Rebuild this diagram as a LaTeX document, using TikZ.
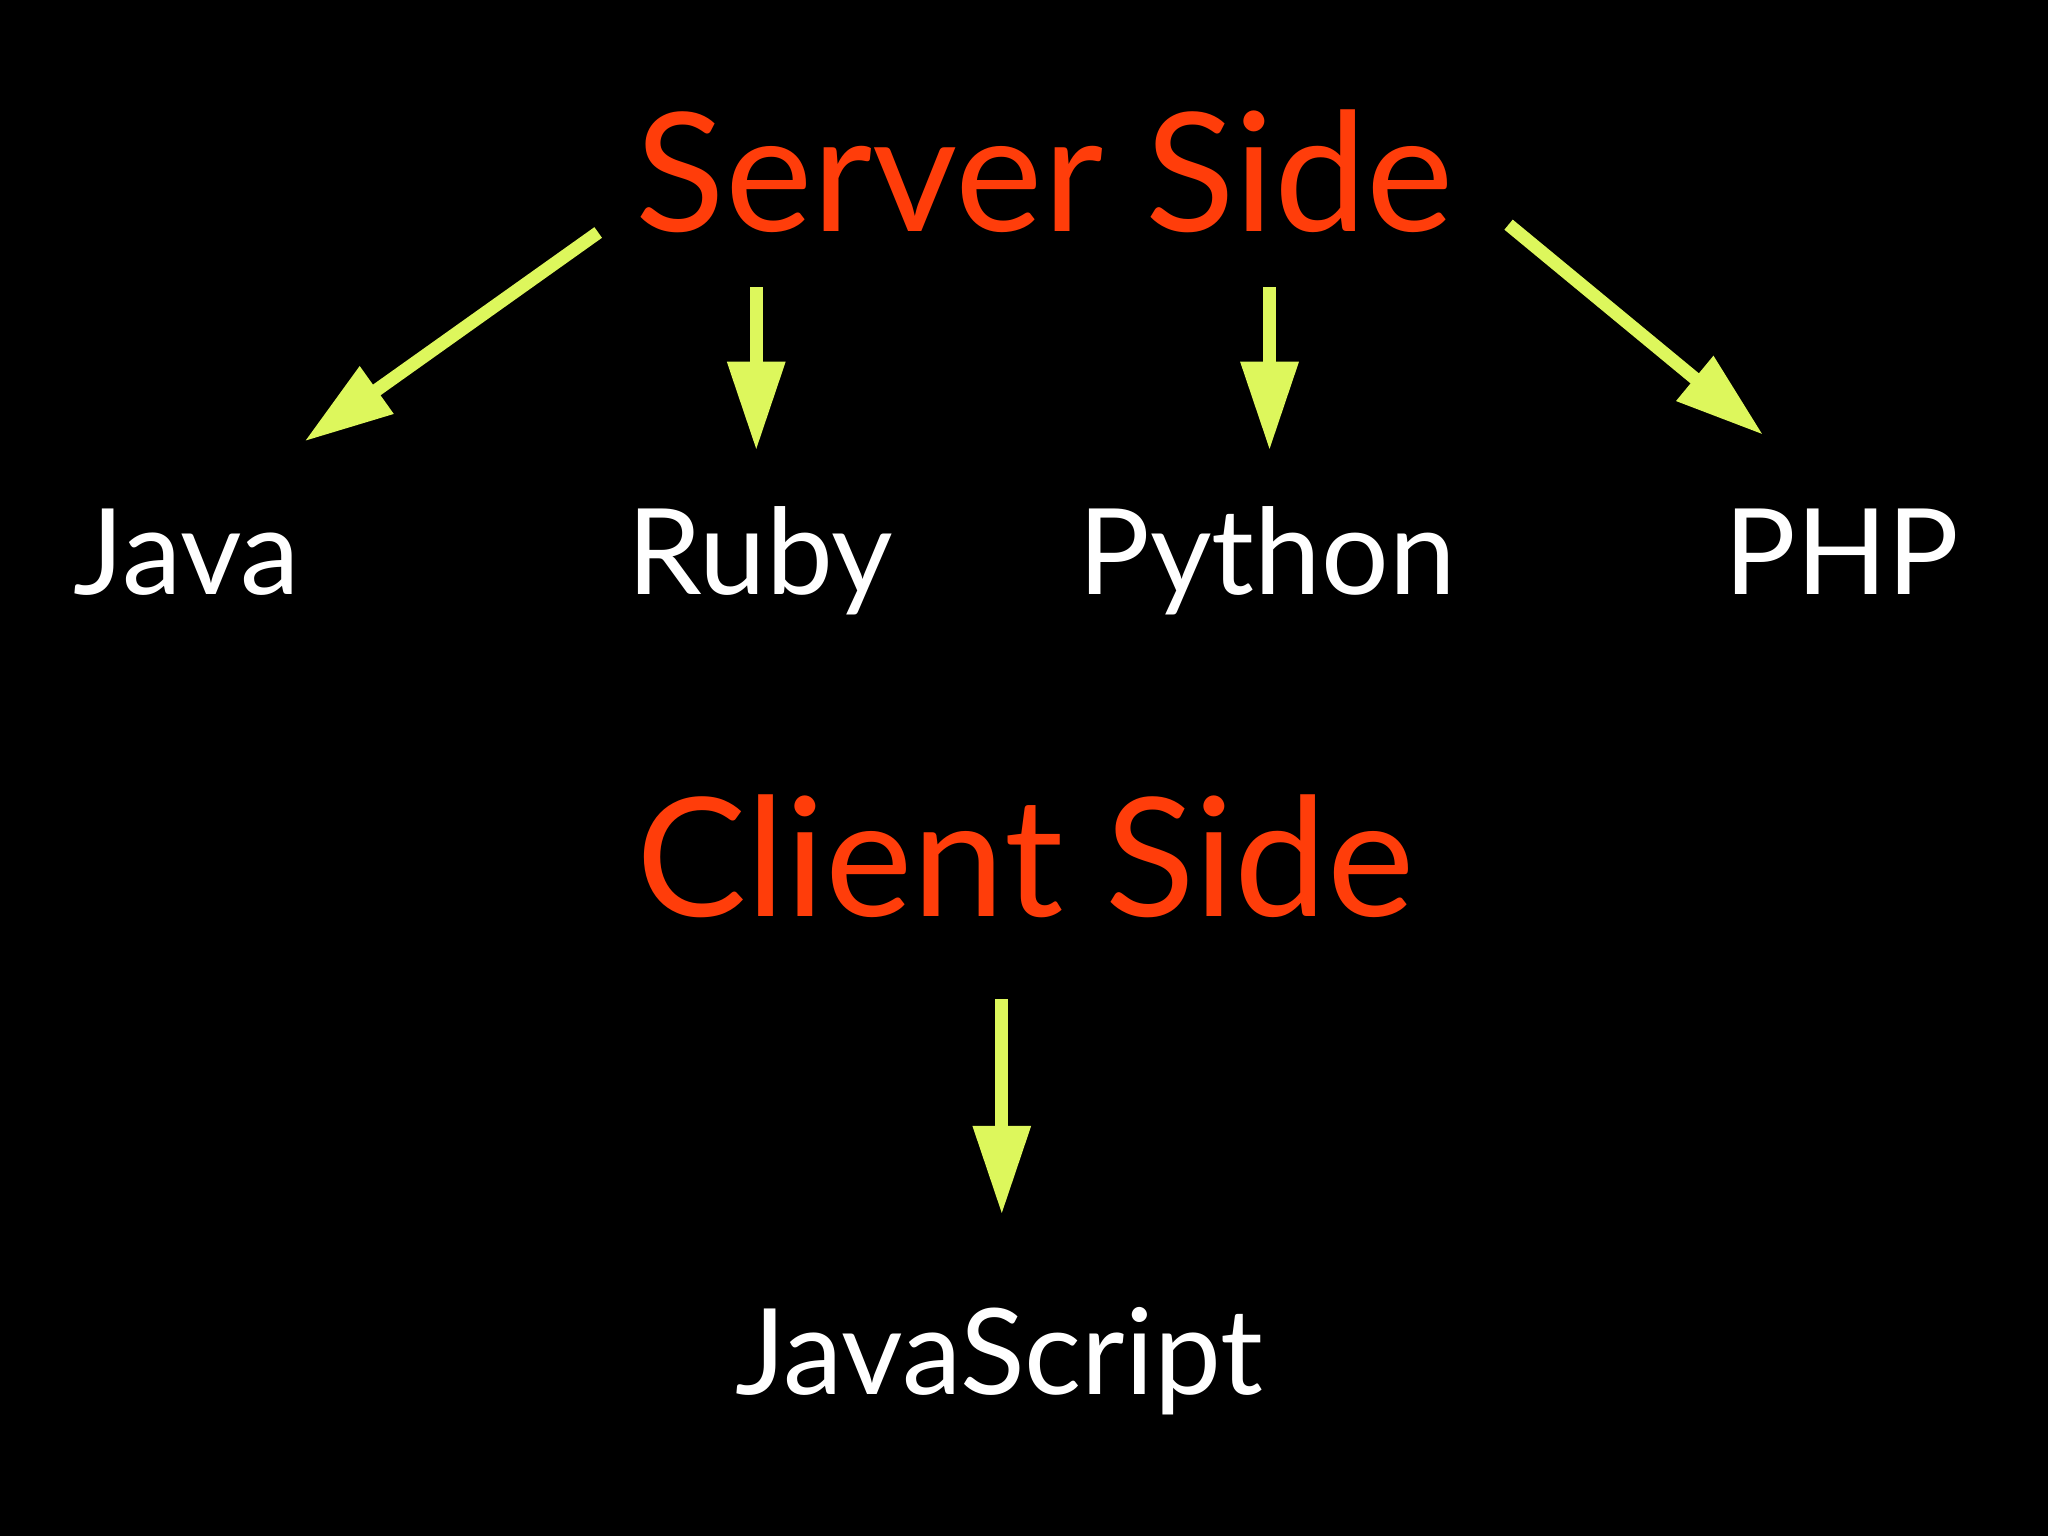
\documentclass[tikz,border=0pt]{standalone}
\usepackage{fontspec}
\setmainfont{Lato}
\usetikzlibrary{arrows.meta}
\definecolor{hot}{HTML}{FF3D0A}
\definecolor{lime}{HTML}{DDF75C}
\begin{document}
\begin{tikzpicture}[x=0.01cm,y=-0.01cm,
  title/.style={text=hot,font=\fontsize{36}{40}\selectfont,anchor=base},
  lang/.style={text=white,font=\fontsize{26}{30}\selectfont,anchor=base},
  arr/.style={draw=lime,line width=0.1cm,-{Triangle[width=0.42cm,length=0.68cm]},fill=lime}]
\fill[black] (0,0) rectangle (1568,1176);
\useasboundingbox (0,0) rectangle (1568,1176);
\node[title] (server) at (800,177) {Server Side};
\node[lang] (java) at (143,455) {Java};
\node[lang] (ruby) at (582,455) {Ruby};
\node[lang] (python) at (970,455) {Python};
\node[lang] (php) at (1410,455) {PHP};
\node[title] (client) at (785,702) {Client Side};
\node[lang] (js) at (765,1068) {JavaScript};
\coordinate (a1s) at (458,178); \coordinate (a1e) at (233,338);
\coordinate (a2s) at (579,220); \coordinate (a2e) at (579,345);
\coordinate (a3s) at (972,220); \coordinate (a3e) at (972,345);
\coordinate (a4s) at (1155,172); \coordinate (a4e) at (1350,333);
\coordinate (a5s) at (767,765); \coordinate (a5e) at (767,930);
\draw[arr] (a1s) -- (a1e);
\draw[arr] (a2s) -- (a2e);
\draw[arr] (a3s) -- (a3e);
\draw[arr] (a4s) -- (a4e);
\draw[arr] (a5s) -- (a5e);
\end{tikzpicture}
\end{document}
